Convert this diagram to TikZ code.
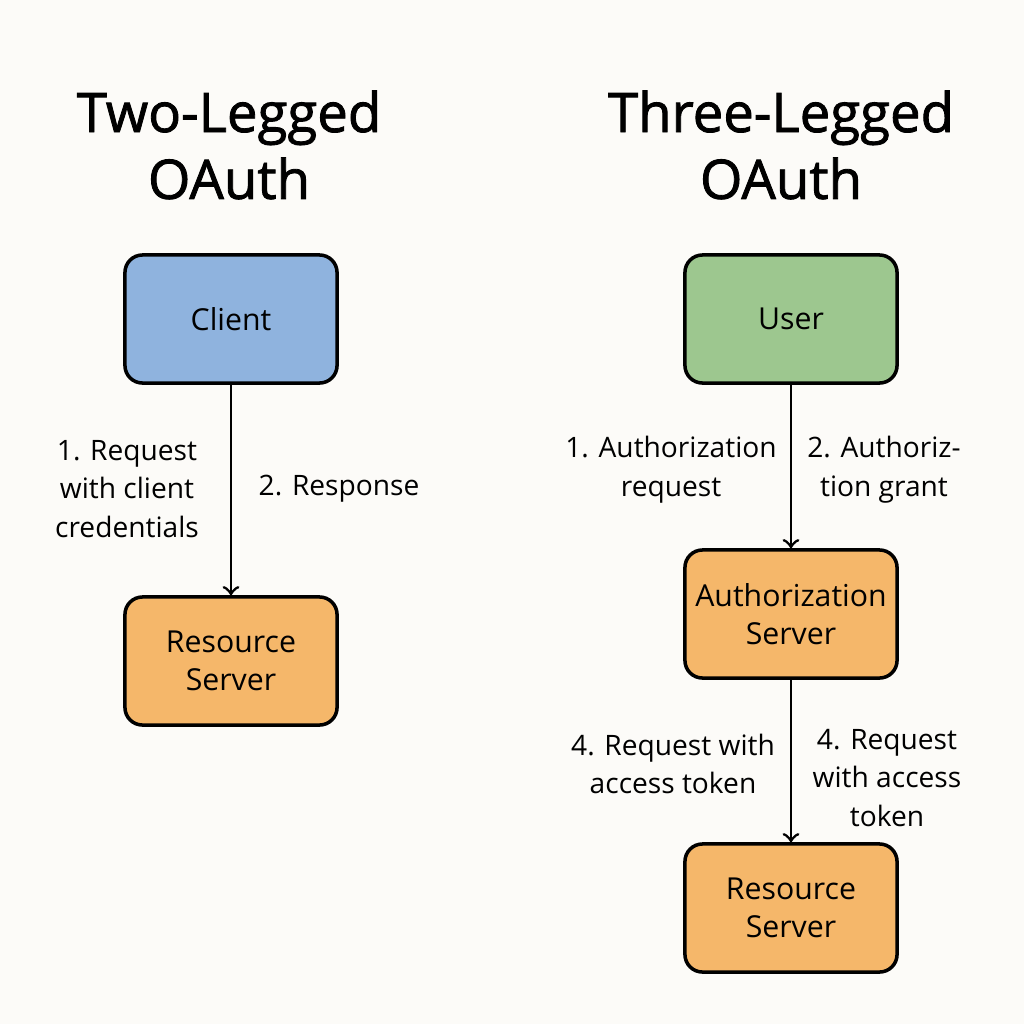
\documentclass[tikz,border=0pt]{standalone}
\usepackage{fontspec}
\setmainfont{Open Sans}
\usetikzlibrary{positioning}
\definecolor{clientblue}{HTML}{8FB3DE}
\definecolor{usergreen}{HTML}{9DC78F}
\definecolor{serverorange}{HTML}{F5B76A}
\definecolor{paper}{HTML}{FCFBF8}
\tikzset{
  box/.style={draw=black, line width=1pt, rounded corners=5pt, minimum width=2.12cm,
    minimum height=1.28cm, inner xsep=1pt, align=center, font=\fontsize{8.6pt}{11pt}\selectfont},
  lbl/.style={align=center, font=\fontsize{8pt}{11pt}\selectfont},
  ttl/.style={align=center, font=\addfontfeatures{FakeBold=1.5}\fontsize{15.5pt}{19pt}\selectfont},
  flow/.style={->, line width=0.8pt}
}
\begin{document}
\begin{tikzpicture}[x=0.01cm, y=-0.01cm]
    \fill [paper] (0,0) rectangle (1024,1024);
    \useasboundingbox (0,0) rectangle (1024,1024);
    % two-legged
    \node [ttl] (ttwo) at (229,145) {Two-Legged\\OAuth};
    \node [box, fill=clientblue] (client) at (231,319) {Client};
    \node [box, fill=serverorange] (rsleft) at (231,661) {Resource\\Server};
    \draw [flow] (client) -- (rsleft);
    \node [lbl] (req) at (127,489) {1. Request\\with client\\credentials};
    \node [lbl] (resp) at (339,489) {2. Response};
    % three-legged
    \node [ttl] (tthree) at (781,145) {Three-Legged\\OAuth};
    \node [box, fill=usergreen] (user) at (791,319) {User};
    \node [box, fill=serverorange] (auth) at (791,614) {Authorization\\Server};
    \node [box, fill=serverorange] (rsright) at (791,908) {Resource\\Server};
    \draw [flow] (user) -- (auth);
    \draw [flow] (auth) -- (rsright);
    \node [lbl] (areq) at (671,470) {1. Authorization\\request};
    \node [lbl] (agrant) at (884,470) {2. Authoriz-\\tion grant};
    \node [lbl] (treq) at (673,764) {4. Request with\\access token};
    \node [lbl] (treq2) at (887,778) {4. Request\\with access\\token};
\end{tikzpicture}
\end{document}
